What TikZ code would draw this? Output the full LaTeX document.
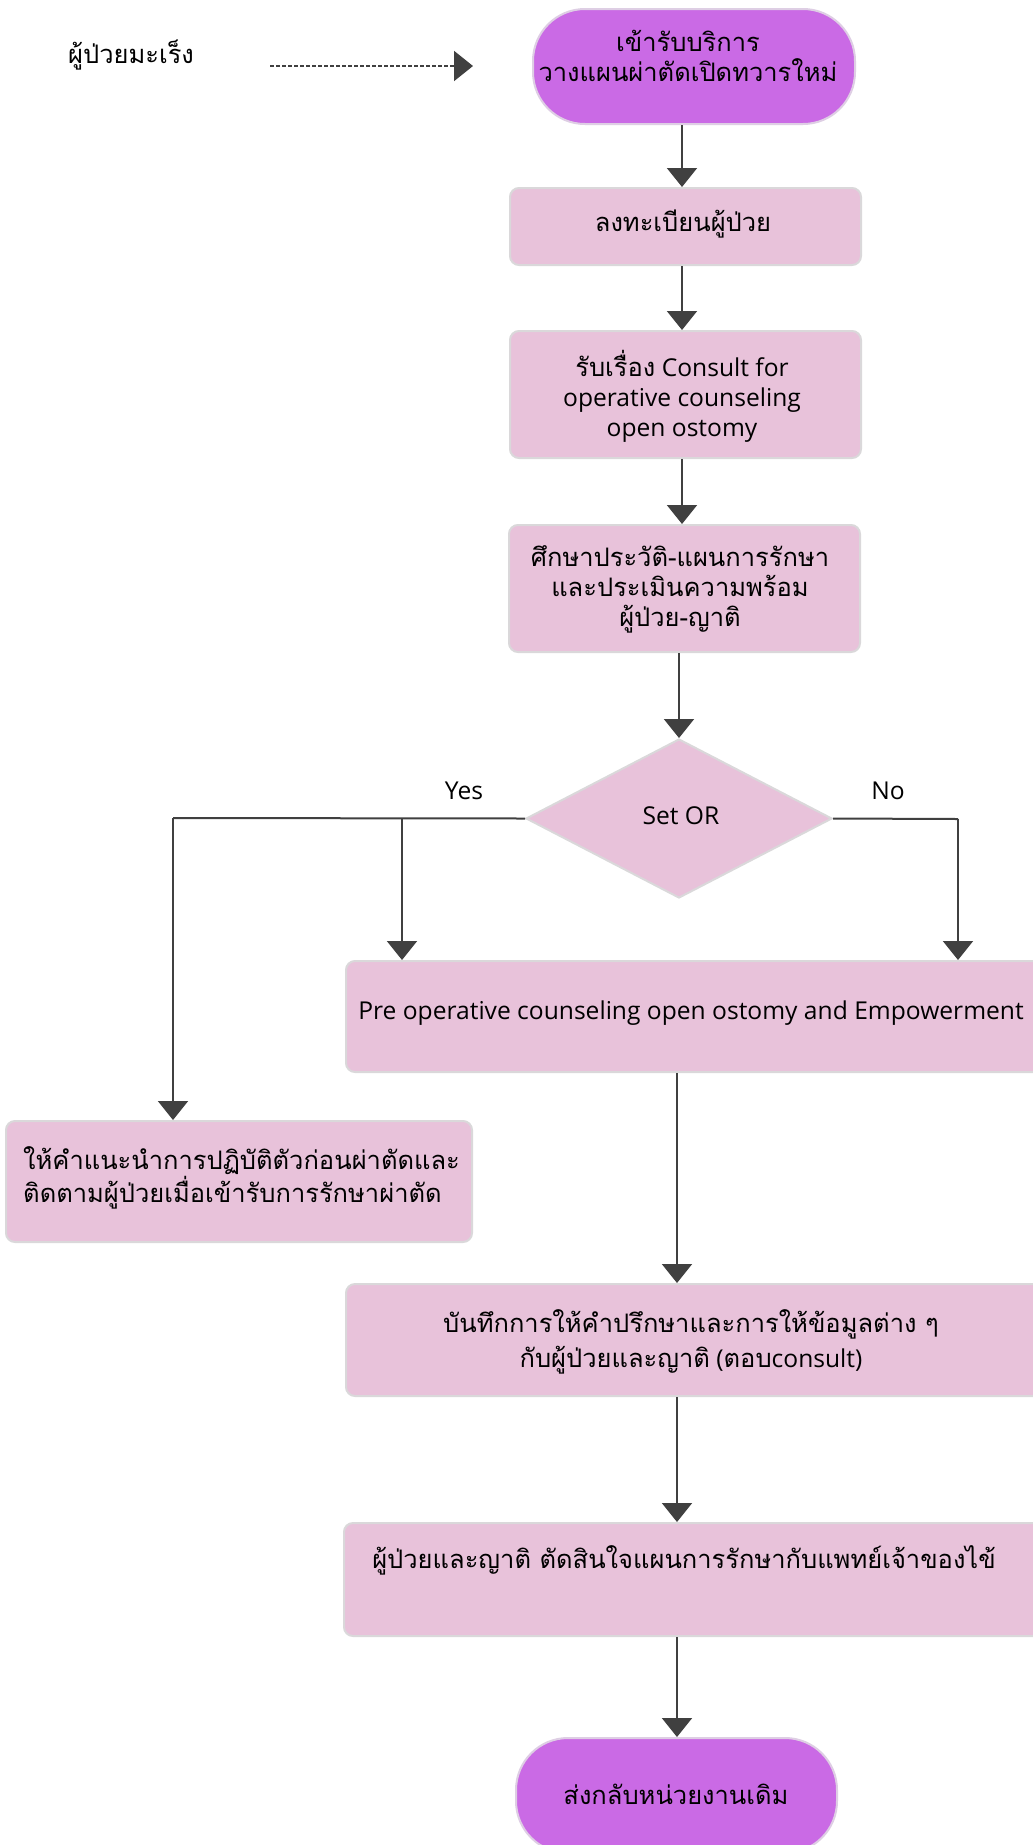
\documentclass[tikz,border=0pt]{standalone}
\usepackage{fontspec}
\setmainfont{Open Sans}
\newfontfamily\thaifont[Script=Thai]{Loma}
\usetikzlibrary{arrows.meta,shapes.geometric}
\definecolor{termfill}{RGB}{202,106,229}
\definecolor{boxfill}{RGB}{232,194,218}
\definecolor{boxline}{RGB}{218,216,218}
\definecolor{termline}{RGB}{222,206,228}
\definecolor{arrowc}{RGB}{64,64,64}
\newcommand{\thw}[1]{{\thaifont\fontsize{25.5}{30}\selectfont #1}}
\begin{document}
\begin{tikzpicture}[x=1pt,y=-1pt,
  boxstyle/.style={draw=boxline, line width=2pt, fill=boxfill, rounded corners=9pt, inner sep=0pt},
  termstyle/.style={draw=termline, line width=2pt, fill=termfill, rounded corners=52pt, inner sep=0pt},
  decstyle/.style={diamond, draw=boxline, line width=2pt, fill=boxfill, inner sep=0pt},
  txt/.style={align=center, inner sep=0pt, font=\fontsize{24.6}{30}\selectfont},
  thtxt/.style={align=center, inner sep=0pt, font=\thaifont\fontsize{25.5}{30}\selectfont},
  arr/.style={draw=arrowc, line width=2pt, -{Triangle[length=19pt,width=30pt]}},
  ln/.style={draw=arrowc, line width=2pt}
]
\clip (0,0) rectangle (1033,1845);
\fill[white] (0,0) rectangle (1033,1845);

% shapes
\node[termstyle, minimum width=322, minimum height=115] (t1) at (694,66.5) {};
\node[boxstyle, minimum width=351, minimum height=77] (b2) at (685.5,226.5) {};
\node[boxstyle, minimum width=351, minimum height=127] (b3) at (685.5,394.5) {};
\node[boxstyle, minimum width=351, minimum height=127] (b4) at (684.5,588.5) {};
\node[decstyle, minimum width=306, minimum height=159] (d) at (679,818.5) {};
\node[boxstyle, minimum width=700, minimum height=111] (b5) at (696,1016.5) {};
\node[boxstyle, minimum width=466, minimum height=121] (b6) at (239,1181.5) {};
\node[boxstyle, minimum width=700, minimum height=112] (b7) at (696,1340) {};
\node[boxstyle, minimum width=700, minimum height=113] (b8) at (694,1579.5) {};
\node[termstyle, minimum width=321, minimum height=115] (t9) at (676.5,1795.5) {};

% texts
\node[thtxt] (t1t) at (688,56) {เข้ารับบริการ\\วางแผนผ่าตัดเปิดทวารใหม่};
\node[thtxt] (b2t) at (683,224) {ลงทะเบียนผู้ป่วย};
\node[txt] (b3t) at (682,396) {\thw{รับเรื่อง} Consult for\\operative counseling\\open ostomy};
\node[thtxt] (b4t) at (680,589) {ศึกษาประวัติ-แผนการรักษา\\และประเมินความพร้อม\\ผู้ป่วย-ญาติ};
\node[txt] (dt) at (681,816) {Set OR};
\node[txt] (b5t) at (691,1013) {Pre operative counseling open ostomy and Empowerment};
\node[thtxt, align=left, anchor=west] (b6t) at (23,1178) {ให้คำแนะนำการปฏิบัติตัวก่อนผ่าตัดและ\\ติดตามผู้ป่วยเมื่อเข้ารับการรักษาผ่าตัด};
\node[txt, font=\fontsize{24.6}{35}\selectfont] (b7t) at (691,1342) {\thw{บันทึกการให้คำปรึกษาและการให้ข้อมูลต่าง ๆ}\\\thw{กับผู้ป่วยและญาติ} (\thw{ตอบ}consult)};
\node[thtxt] (b8t) at (684,1560) {ผู้ป่วยและญาติ ตัดสินใจแผนการรักษากับแพทย์เจ้าของไข้};
\node[thtxt] (t9t) at (676,1794) {ส่งกลับหน่วยงานเดิม};
\node[thtxt, anchor=west] (lbl) at (68,55) {ผู้ป่วยมะเร็ง};
\node[txt] (yes) at (464,791) {Yes};
\node[txt] (no) at (888,791) {No};

% connectors
\coordinate (ds) at (270,66);
\coordinate (de) at (473,66);
\draw[arr, dash pattern=on 4pt off 2pt] (ds) -- (de);
\draw[arr] (682,0 |- t1.south) -- (682,0 |- b2.north);
\draw[arr] (682,0 |- b2.south) -- (682,0 |- b3.north);
\draw[arr] (682,0 |- b3.south) -- (682,0 |- b4.north);
\draw[arr] (679,0 |- b4.south) -- (d.north);
\coordinate (yl) at (173,818);
\coordinate (yb) at (402,818);
\coordinate (nr) at (958,819);
\draw[ln] (d.west) -- (yl);
\draw[arr] (yl) -- (yl |- b6.north);
\draw[arr] (yb) -- (yb |- b5.north);
\draw[ln] (d.east) -- (nr);
\draw[arr] (nr) -- (nr |- b5.north);
\draw[arr] (677,0 |- b5.south) -- (677,0 |- b7.north);
\draw[arr] (677,0 |- b7.south) -- (677,0 |- b8.north);
\draw[arr] (677,0 |- b8.south) -- (677,0 |- t9.north);
\end{tikzpicture}
\end{document}
